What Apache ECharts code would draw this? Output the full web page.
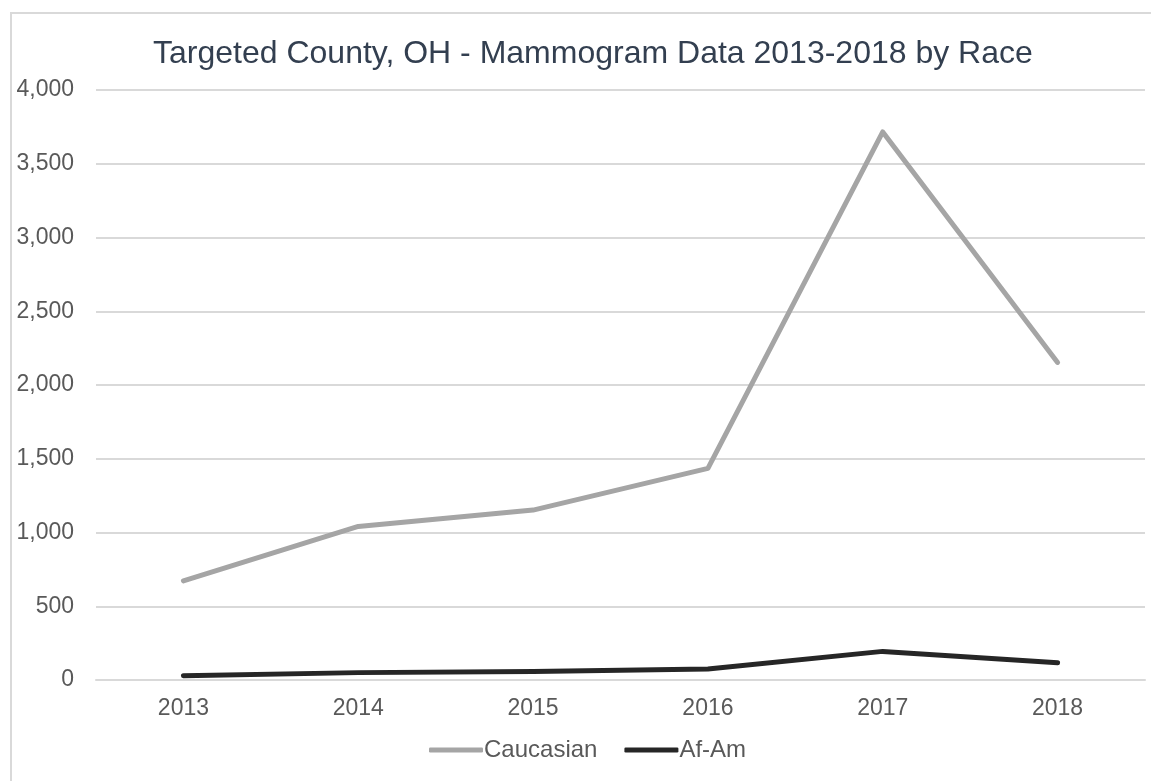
<!DOCTYPE html>
<html>
<head>
<meta charset="utf-8">
<script src="https://cdn.jsdelivr.net/npm/echarts@6/dist/echarts.min.js"></script>
<style>
html,body{margin:0;padding:0;background:#fff;}
#frame{position:absolute;left:10px;top:12px;width:1160px;height:800px;border-left:2px solid #d9d9d9;border-top:2px solid #d9d9d9;box-sizing:border-box;}
#chart{position:absolute;left:0;top:0;width:1151px;height:781px;}
</style>
</head>
<body>
<div id="frame"></div>
<div id="chart"></div>
<script>
const categories = ['2013','2014','2015','2016','2017','2018'];
const caucasian = [672, 1041, 1152, 1435, 3716, 2153];
const afAm = [29, 50, 58, 75, 194, 117];
const titleText = 'Targeted County, OH - Mammogram Data 2013-2018 by Race';

const chart = echarts.init(document.getElementById('chart'), null, {renderer:'canvas'});
chart.setOption({
  backgroundColor: 'transparent',
  animation: false,
  title: {
    text: titleText,
    left: 148,
    top: 33,
    textStyle: {fontFamily:'Liberation Sans', fontSize: 32, fontWeight:'normal', color:'#333f50'}
  },
  legend: {
    bottom: 14,
    left: 424,
    itemWidth: 54,
    itemHeight: 5,
    itemGap: 27,
    icon: 'roundRect',
    textStyle: {fontFamily:'Liberation Sans', fontSize: 24, color:'#595959', padding:[0,0,0,-4]},
    data: ['Caucasian','Af-Am']
  },
  grid: {left: 96, right: 6, top: 90, bottom: 101, containLabel: false},
  xAxis: {
    type: 'category',
    data: categories,
    boundaryGap: true,
    axisLine: {lineStyle:{color:'#d9d9d9', width:2}},
    axisTick: {show:false},
    axisLabel: {fontFamily:'Liberation Sans', fontSize: 23, color:'#595959', margin: 17}
  },
  yAxis: {
    type: 'value',
    min: 0, max: 4000, interval: 500,
    axisLine: {show:false},
    axisTick: {show:false},
    splitLine: {lineStyle:{color:'#d9d9d9', width:2}},
    axisLabel: {fontFamily:'Liberation Sans', fontSize: 23, color:'#595959', margin: 22,
      formatter: v => v.toLocaleString('en-US')}
  },
  series: [
    {name:'Caucasian', type:'line', data: caucasian, symbol:'none',
     lineStyle:{color:'#a5a5a5', width:5, cap:'round', join:'round'}, itemStyle:{color:'#a5a5a5'}},
    {name:'Af-Am', type:'line', data: afAm, symbol:'none',
     lineStyle:{color:'#262626', width:5, cap:'round', join:'round'}, itemStyle:{color:'#262626'}}
  ]
});
</script>
</body>
</html>
